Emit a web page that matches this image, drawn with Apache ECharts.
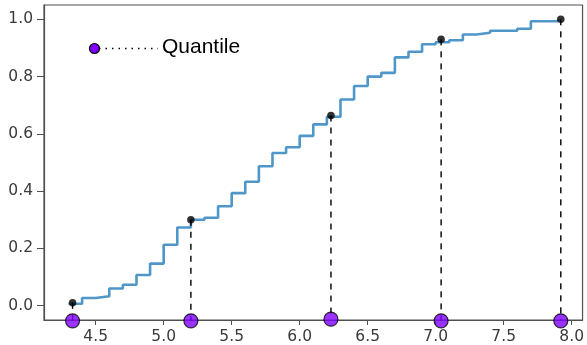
<!DOCTYPE html>
<html>
<head>
<meta charset="utf-8">
<script src="https://cdn.jsdelivr.net/npm/echarts@6/dist/echarts.min.js"></script>
<style>html,body{margin:0;padding:0;background:#fff}#c{width:587px;height:345px}</style>
</head>
<body>
<div id="c"></div>
<script>
// ECDF step values (sepal length)
var stepX = [4.3,4.4,4.5,4.6,4.7,4.8,4.9,5.0,5.1,5.2,5.3,5.4,5.5,5.6,5.7,5.8,5.9,6.0,6.1,6.2,6.3,6.4,6.5,6.6,6.7,6.8,6.9,7.0,7.1,7.2,7.3,7.4,7.6,7.7,7.9];
var stepY = [0.007,0.027,0.033,0.06,0.073,0.107,0.147,0.213,0.273,0.30,0.307,0.347,0.393,0.433,0.487,0.533,0.553,0.593,0.633,0.66,0.72,0.767,0.80,0.813,0.867,0.887,0.913,0.92,0.927,0.947,0.953,0.96,0.967,0.993,1.0];
// quantile points
var quantX = [4.33, 5.2, 6.23, 7.04, 7.92];
var quantY = [0.01, 0.30, 0.664, 0.93, 1.0];
var quantBaseY = [-0.053, -0.053, -0.047, -0.053, -0.053];
// ticks
var xTicks = [4.5, 5.0, 5.5, 6.0, 6.5, 7.0, 7.5, 8.0];
var yTicks = [0.0, 0.2, 0.4, 0.6, 0.8, 1.0];
var legendLabel = 'Quantile';

var chart = echarts.init(document.getElementById('c'), null, {renderer: 'canvas'});

var series = [];
series.push({
  type: 'line', step: 'end', showSymbol: false, symbol: 'none',
  data: stepX.map(function (x, i) { return [x, stepY[i]]; }),
  lineStyle: {color: '#4f97c8', width: 2.6}, z: 2, animation: false
});
quantX.forEach(function (x, i) {
  series.push({
    type: 'line', symbol: 'none', clip: false,
    data: [[x, quantY[i]], [x, quantBaseY[i]]],
    lineStyle: {color: '#000', width: 1.4, type: [6, 6]}, z: 3, animation: false
  });
});
series.push({
  type: 'scatter', symbol: 'circle', symbolSize: 7.5, clip: false,
  data: quantX.map(function (x, i) { return [x, quantY[i]]; }),
  itemStyle: {color: '#000'}, z: 5, animation: false
});
series.push({
  type: 'scatter', symbol: 'circle', symbolSize: 14, clip: false,
  data: quantX.map(function (x, i) { return [x, quantBaseY[i]]; }),
  itemStyle: {color: '#7f00ff', borderColor: '#000', borderWidth: 1.2}, z: 6, animation: false
});

var labelFont = {fontFamily: 'DejaVu Sans', fontSize: 15.5, color: '#3a3a3a'};

chart.setOption({
  backgroundColor: '#fff',
  animation: false,
  grid: {left: 44, right: 3, top: 5, bottom: 24, show: true, borderColor: '#505050', borderWidth: 1.2, backgroundColor: 'transparent'},
  xAxis: {
    type: 'value', min: 4.12, max: 8.08,
    splitLine: {show: false},
    axisLine: {show: true, onZero: false, lineStyle: {color: '#505050', width: 1.2}},
    axisTick: {show: true, length: 5, customValues: xTicks, lineStyle: {color: '#505050'}},
    axisLabel: Object.assign({customValues: xTicks, margin: 9, formatter: function (v) { return v.toFixed(1); }}, labelFont)
  },
  yAxis: {
    type: 'value', min: -0.05, max: 1.05,
    splitLine: {show: false},
    axisLine: {show: true, onZero: false, lineStyle: {color: '#505050', width: 1.2}},
    axisTick: {show: true, length: 7, customValues: yTicks, lineStyle: {color: '#505050'}},
    axisLabel: Object.assign({customValues: yTicks, margin: 11, formatter: function (v) { return v.toFixed(1); }}, labelFont)
  },
  graphic: [
    {type: 'line', shape: {x1: 99, y1: 48.5, x2: 158, y2: 48.5}, style: {stroke: '#000', lineWidth: 1.5, lineDash: [1.5, 5]}, z: 10},
    {type: 'circle', shape: {cx: 94.5, cy: 48.5, r: 5}, style: {fill: '#7f00ff', stroke: '#000', lineWidth: 1.2}, z: 11},
    {type: 'text', left: 162, top: 37, style: {text: legendLabel, fill: '#000', font: '21px "Liberation Sans", Arial, sans-serif'}, z: 11}
  ],
  series: series
});
</script>
</body>
</html>
